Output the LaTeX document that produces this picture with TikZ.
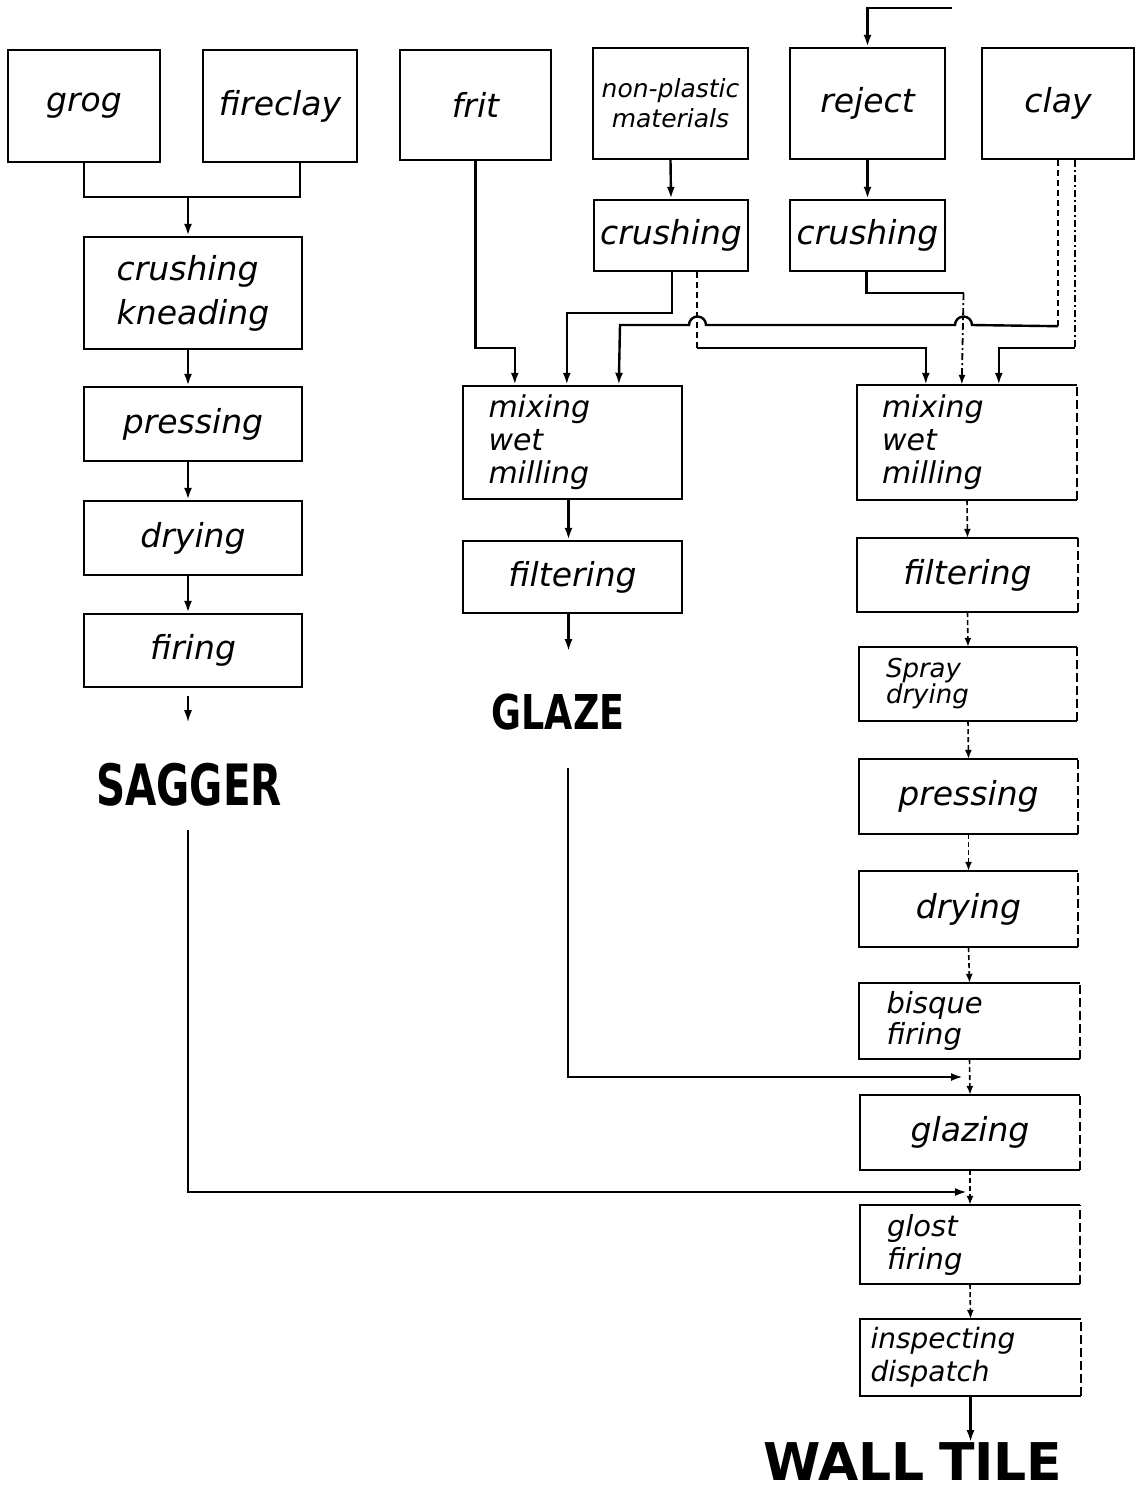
\documentclass[tikz,border=0pt]{standalone}
\usepackage{fontspec}
\setmainfont{DejaVu Sans}
\usepackage{graphicx}
\usetikzlibrary{arrows.meta,calc}
\newcommand{\handfont}{\fontsize{33}{38}\selectfont\itshape}
\newcommand{\handsmall}{\fontsize{25}{30}\selectfont\itshape}
\newcommand{\handmix}{\fontsize{30}{33}\selectfont\itshape}
\newcommand{\bigfont}{\bfseries}
\begin{document}
\begin{tikzpicture}[x=1pt,y=-1pt,line width=2.4pt,
  box/.style={draw,rectangle,inner sep=2pt,font=\handfont,align=left},
  rbox/.style={rectangle,inner sep=2pt,font=\handfont,align=left},
  arr/.style={-{Latex[length=12pt,width=8pt]}},
  rconn/.style={dash pattern=on 5pt off 3pt,line width=1.6pt,-{Latex[length=9pt,width=7pt]}},
  dashv/.style={dash pattern=on 6pt off 4pt,line width=1.8pt},
  dashdotv/.style={dash pattern=on 7pt off 3pt on 2pt off 3pt,line width=1.8pt},
  big/.style={inner sep=0pt,font=\bigfont}]
\useasboundingbox (0,0) rectangle (1146,1493);

% top row
\node[box,minimum width=152pt,minimum height=112pt] (grog) at (84,106) {grog};
\node[box,minimum width=154pt,minimum height=112pt] (fireclay) at (280,106) {fireclay};
\node[box,minimum width=151pt,minimum height=110pt] (frit) at (475.5,105) {frit};
\node[box,minimum width=155pt,minimum height=111pt,font=\handsmall,align=center] (np) at (670.5,103.5) {non-plastic\\materials};
\node[box,minimum width=155pt,minimum height=111pt] (reject) at (867.5,103.5) {reject};
\node[box,minimum width=152pt,minimum height=111pt] (clay) at (1058,103.5) {clay};

% left column
\node[box,minimum width=218pt,minimum height=112pt,font=\fontsize{33}{44}\selectfont\itshape] (ck) at (193,293) {crushing\\kneading};
\node[box,minimum width=218pt,minimum height=74pt] (lpress) at (193,424) {pressing};
\node[box,minimum width=218pt,minimum height=74pt] (ldry) at (193,538) {drying};
\node[box,minimum width=218pt,minimum height=73pt] (lfire) at (193,650.5) {firing};
\node[big] (sagger) at (189,785) {\scalebox{0.71}[1]{\fontsize{57}{60}\selectfont SAGGER}};

% crushers
\node[box,minimum width=154pt,minimum height=71pt] (npcrush) at (671,235.5) {crushing};
\node[box,minimum width=155pt,minimum height=71pt] (rjcrush) at (867.5,235.5) {crushing};

% glaze column
\node[box,minimum width=219pt,minimum height=113pt,font=\handmix,text width=168pt] (gmix) at (572.5,442.5) {mixing\\wet\\milling};
\node[box,minimum width=219pt,minimum height=72pt] (gfilt) at (572.5,577) {filtering};
\node[big] (glaze) at (558,712) {\scalebox{0.76}[1]{\fontsize{48}{50}\selectfont GLAZE}};

% right column
\node[rbox,minimum width=218pt,minimum height=113pt,font=\handmix,text width=170pt] (rmix) at (967,442.5) {mixing\\wet\\milling};
\node[rbox,minimum width=219pt,minimum height=72pt] (rfilt) at (967.5,575) {filtering};
\node[rbox,minimum width=216pt,minimum height=72pt,font=\fontsize{26}{26}\selectfont\itshape,text width=164pt] (spray) at (968,684) {Spray\\drying};
\node[rbox,minimum width=217pt,minimum height=73pt] (rpress) at (968.5,796.5) {pressing};
\node[rbox,minimum width=217pt,minimum height=74pt] (rdry) at (968.5,909) {drying};
\node[rbox,minimum width=219pt,minimum height=74pt,font=\fontsize{29}{31}\selectfont\itshape,text width=166pt] (bisque) at (969.5,1021) {bisque\\firing};
\node[rbox,minimum width=218pt,minimum height=73pt] (glazing) at (970,1132.5) {glazing};
\node[rbox,minimum width=218pt,minimum height=77pt,font=\fontsize{29}{33}\selectfont\itshape,text width=166pt] (glost) at (970,1244.5) {glost\\firing};
\node[rbox,minimum width=219pt,minimum height=75pt,font=\fontsize{28}{33}\selectfont\itshape,text width=200pt] (insp) at (970.5,1357.5) {inspecting\\dispatch};
\node[big] (wall) at (913,1462) {\fontsize{52}{54}\selectfont WALL\hspace{14pt}TILE};

\foreach \n in {rmix,rfilt,spray,rpress,rdry,bisque,glazing,glost,insp}{
  \draw (\n.north east) -- (\n.north west) -- (\n.south west) -- (\n.south east);
  \draw[dash pattern=on 9pt off 4pt] (\n.south east) -- (\n.north east);
}

% free-end coordinates
\coordinate (rjsrc) at (952,8);
\coordinate (s0) at (188,830);
\coordinate (sin) at (967,1192);
\coordinate (g0) at (568,768);
\coordinate (gin) at (963,1077);

% left column connectors
\draw (grog.south) -- ++(0,34) coordinate (j1) -- ($(fireclay.south)+(20,34)$) -- ($(fireclay.south)+(20,0)$);
\draw[arr] ($(j1)+(104,0)$) -- ($(ck.north)+(-5,0)$);
\draw[arr] ($(ck.south)+(-5,0)$) -- ($(lpress.north)+(-5,0)$);
\draw[arr] ($(lpress.south)+(-5,0)$) -- ($(ldry.north)+(-5,0)$);
\draw[arr] ($(ldry.south)+(-5,0)$) -- ($(lfire.north)+(-5,0)$);
\draw[arr,line width=1.8pt] ($(lfire.south)+(-5,8)$) -- ++(0,26);
\draw[arr] (s0) |- (sin);

% top feed into reject
\draw[arr] (rjsrc) -| (reject.north);
\draw[arr] (np.south) -- (npcrush.north);
\draw[arr] (reject.south) -- (rjcrush.north);

% frit to glaze mixing
\draw[arr] (frit.south) -- ++(0,187) -| ($(gmix.north west)+(53,0)$);
% crushed non-plastic to glaze mixing
\draw[arr] ($(npcrush.south)+(1,0)$) -- ++(0,41) -| ($(gmix.north west)+(105,0)$);
% crushed non-plastic to body mixing (dashed branch)
\draw[dashv] ($(npcrush.south)+(26,0)$) -- ++(0,76) coordinate (d1);
\draw[arr] (d1) -| ($(rmix.north west)+(69,0)$);
% crushed reject to body mixing
\draw ($(rjcrush.south)+(-1,0)$) -- ++(0,21) -- ++(97,0) coordinate (r1);
\draw[dashdotv,-{Latex[length=10pt,width=7pt]}] (r1) -- ($(rmix.north west)+(105,0)$);
% clay to glaze mixing (with line jumps)
\draw[dashv] (clay.south) -- ++(0,166) coordinate (c1);
\draw[arr] (c1) -- (972,325) arc (0:-180:8.5) -- (706,325) arc (0:-180:8.5) -- (620,325) -- ($(gmix.north west)+(157,0)$);
% clay to body mixing
\draw[dashdotv] ($(clay.south)+(17,0)$) -- ++(0,188) coordinate (c2);
\draw[arr] (c2) -| ($(rmix.north west)+(142,0)$);

% glaze column
\draw[arr] ($(gmix.south)+(-4,0)$) -- ($(gfilt.north)+(-4,0)$);
\draw[arr] ($(gfilt.south)+(-4,0)$) -- ++(0,37);
\draw[arr] (g0) |- (gin);

% right column connectors
\draw[rconn] (rmix.south) -- (rfilt.north);
\draw[rconn] (rfilt.south) -- (spray.north);
\draw[rconn] (spray.south) -- (rpress.north);
\draw[rconn] (rpress.south) -- (rdry.north);
\draw[rconn] (rdry.south) -- (bisque.north);
\draw[rconn] (bisque.south) -- (glazing.north);
\draw[rconn] (glazing.south) -- (glost.north);
\draw[rconn] (glost.south) -- (insp.north);
\draw[arr] (insp.south) -- ++(0,46);
\end{tikzpicture}
\end{document}
